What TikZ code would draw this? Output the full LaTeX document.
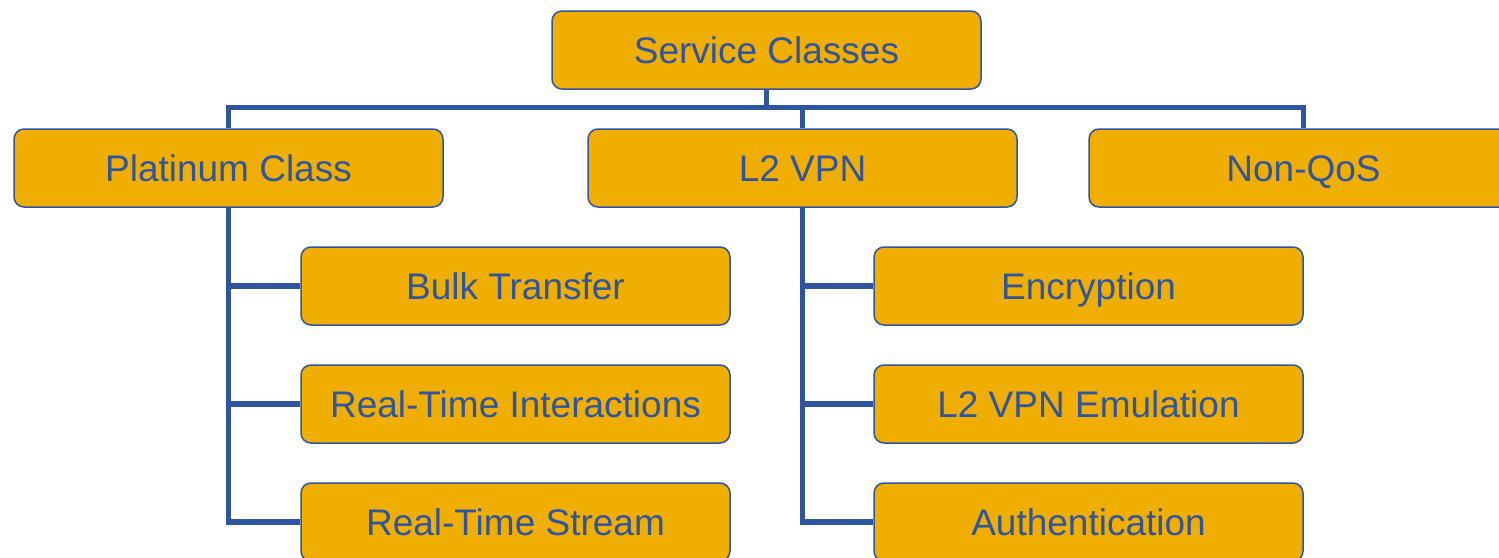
\documentclass[tikz,border=0pt]{standalone}
\usepackage{fontspec}
\setmainfont{Liberation Sans}
\definecolor{boxfill}{HTML}{F0AE00}
\definecolor{boxblue}{HTML}{2F55A0}
\begin{document}
\begin{tikzpicture}[x=1pt,y=-1pt,
  cls/.style={draw=boxblue, line width=1.5pt, fill=boxfill, rounded corners=10pt,
    minimum width=429pt, minimum height=78pt, inner sep=0pt, text=boxblue,
    text height=26pt, text depth=0pt,
    font=\fontsize{37}{40}\selectfont},
  conn/.style={draw=boxblue, line width=5.5pt}]
\useasboundingbox (0,0) rectangle (1499,557);
\coordinate (bus) at (0,107.5);
% nodes
\node[cls] (root) at (766.5,50) {Service Classes};
\node[cls] (plat) at (228.5,168) {Platinum Class};
\node[cls] (l2) at (802.5,168) {L2 VPN};
\node[cls] (nonqos) at (1303.5,168) {Non-QoS};
\node[cls] (bulk) at (515.5,286) {Bulk Transfer};
\node[cls] (rti) at (515.5,404) {Real-Time Interactions};
\node[cls] (rts) at (515.5,522) {Real-Time Stream};
\node[cls] (enc) at (1088.5,286) {Encryption};
\node[cls] (emu) at (1088.5,404) {L2 VPN Emulation};
\node[cls] (auth) at (1088.5,522) {Authentication};
% tree connectors
\draw[conn] (root.south) -- (root.south |- bus);
\draw[conn] (plat.north) -- (plat.north |- bus) -- (nonqos.north |- bus) -- (nonqos.north);
\draw[conn] (l2.north) -- (l2.north |- bus);
\draw[conn] (plat.south) |- (rts.west);
\draw[conn] (plat.south |- bulk.west) -- (bulk.west);
\draw[conn] (plat.south |- rti.west) -- (rti.west);
\draw[conn] (l2.south) |- (auth.west);
\draw[conn] (l2.south |- enc.west) -- (enc.west);
\draw[conn] (l2.south |- emu.west) -- (emu.west);
\end{tikzpicture}
\end{document}
